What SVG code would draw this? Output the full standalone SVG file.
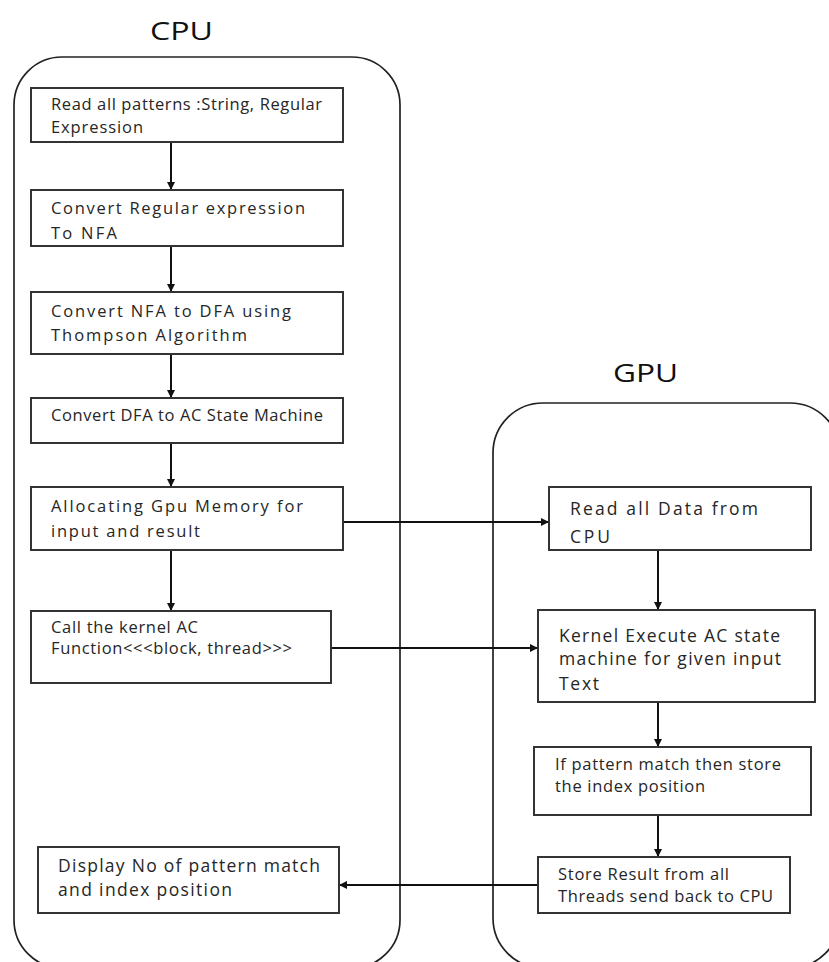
<svg xmlns="http://www.w3.org/2000/svg" width="829" height="962" viewBox="0 0 829 962">
<style>
.cont{fill:none;stroke:#222;stroke-width:1.7}
.box{fill:#fff;stroke:#333;stroke-width:2}
.t{font-family:"Open Sans","Liberation Sans",sans-serif;font-size:16.5px;fill:#262626}
.g{font-size:17.5px}
.title{font-family:"Open Sans","Liberation Sans",sans-serif;font-size:26px;fill:#111}
.c{fill:none;stroke:#111;stroke-width:2}
</style>
<defs>
<marker id="ah" viewBox="0 0 10 10" refX="10" refY="5" markerWidth="8" markerHeight="8" markerUnits="userSpaceOnUse" orient="auto">
<path d="M0,0 L10,5 L0,10 z" fill="#111"/>
</marker>
</defs>
<rect width="829" height="962" fill="#fff"/>

<g id="cpu-container">
<text class="title" x="150" y="40" textLength="63" lengthAdjust="spacingAndGlyphs">CPU</text>
<rect class="cont" x="14" y="57" width="386" height="911" rx="48" ry="48"/>
</g>
<g id="gpu-container">
<text class="title" x="613" y="382" textLength="65" lengthAdjust="spacingAndGlyphs">GPU</text>
<rect class="cont" x="493" y="403" width="347" height="565" rx="50" ry="50"/>
</g>

<g id="connectors">
<line class="c" x1="171" y1="142" x2="171" y2="190" marker-end="url(#ah)"/>
<line class="c" x1="171" y1="246" x2="171" y2="292" marker-end="url(#ah)"/>
<line class="c" x1="171" y1="354" x2="171" y2="398" marker-end="url(#ah)"/>
<line class="c" x1="171" y1="443" x2="171" y2="487" marker-end="url(#ah)"/>
<line class="c" x1="171" y1="550" x2="171" y2="611" marker-end="url(#ah)"/>
<line class="c" x1="343" y1="522" x2="549" y2="522" marker-end="url(#ah)"/>
<line class="c" x1="331" y1="648" x2="538" y2="648" marker-end="url(#ah)"/>
<line class="c" x1="658" y1="550" x2="658" y2="610" marker-end="url(#ah)"/>
<line class="c" x1="658" y1="702" x2="658" y2="747" marker-end="url(#ah)"/>
<line class="c" x1="658" y1="815" x2="658" y2="857" marker-end="url(#ah)"/>
<line class="c" x1="538" y1="885" x2="339" y2="885" marker-end="url(#ah)"/>
</g>

<g id="read-patterns">
<rect class="box" x="31" y="88" width="312" height="54"/>
<text class="t" x="51" y="110" textLength="271" lengthAdjust="spacing">Read all patterns :String, Regular</text>
<text class="t" x="51" y="133" textLength="92" lengthAdjust="spacing">Expression</text>
</g>
<g id="regex-to-nfa">
<rect class="box" x="31" y="190" width="312" height="56"/>
<text class="t" x="51" y="214" textLength="254" lengthAdjust="spacing">Convert Regular expression</text>
<text class="t" x="51" y="239" textLength="66" lengthAdjust="spacing">To NFA</text>
</g>
<g id="nfa-to-dfa">
<rect class="box" x="31" y="292" width="312" height="62"/>
<text class="t" x="51" y="317" textLength="240" lengthAdjust="spacing">Convert NFA to DFA using</text>
<text class="t" x="51" y="341" textLength="196" lengthAdjust="spacing">Thompson Algorithm</text>
</g>
<g id="dfa-to-ac">
<rect class="box" x="31" y="398" width="312" height="45"/>
<text class="t" x="51" y="421" textLength="272" lengthAdjust="spacing">Convert DFA to AC State Machine</text>
</g>
<g id="allocate-gpu-memory">
<rect class="box" x="31" y="487" width="312" height="63"/>
<text class="t" x="51" y="512" textLength="252" lengthAdjust="spacing">Allocating Gpu Memory for</text>
<text class="t" x="51" y="537" textLength="149" lengthAdjust="spacing">input and result</text>
</g>
<g id="call-kernel">
<rect class="box" x="31" y="611" width="300" height="72"/>
<text class="t" x="51" y="633" textLength="147" lengthAdjust="spacing">Call the kernel AC</text>
<text class="t" x="51" y="654" textLength="241" lengthAdjust="spacing">Function&lt;&lt;&lt;block, thread&gt;&gt;&gt;</text>
</g>
<g id="display-result">
<rect class="box" x="38" y="847" width="301" height="66"/>
<text class="t g" x="58" y="872" textLength="262" lengthAdjust="spacing">Display No of pattern match</text>
<text class="t g" x="58" y="896" textLength="174" lengthAdjust="spacing">and index position</text>
</g>

<g id="read-data">
<rect class="box" x="549" y="487" width="262" height="63"/>
<text class="t g" x="570" y="515" textLength="188" lengthAdjust="spacing">Read all Data from</text>
<text class="t g" x="570" y="543" textLength="40" lengthAdjust="spacing">CPU</text>
</g>
<g id="kernel-execute">
<rect class="box" x="538" y="610" width="277" height="92"/>
<text class="t g" x="559" y="642" textLength="221" lengthAdjust="spacing">Kernel Execute AC state</text>
<text class="t g" x="559" y="665" textLength="222" lengthAdjust="spacing">machine for given input</text>
<text class="t g" x="559" y="690" textLength="40" lengthAdjust="spacing">Text</text>
</g>
<g id="store-index">
<rect class="box" x="534" y="747" width="277" height="68"/>
<text class="t" x="555" y="770" textLength="226" lengthAdjust="spacing">If pattern match then store</text>
<text class="t" x="555" y="792" textLength="150" lengthAdjust="spacing">the index position</text>
</g>
<g id="store-result">
<rect class="box" x="538" y="857" width="252" height="56"/>
<text class="t" x="558" y="880" textLength="171" lengthAdjust="spacing">Store Result from all</text>
<text class="t" x="558" y="902" textLength="215" lengthAdjust="spacing">Threads send back to CPU</text>
</g>
</svg>
